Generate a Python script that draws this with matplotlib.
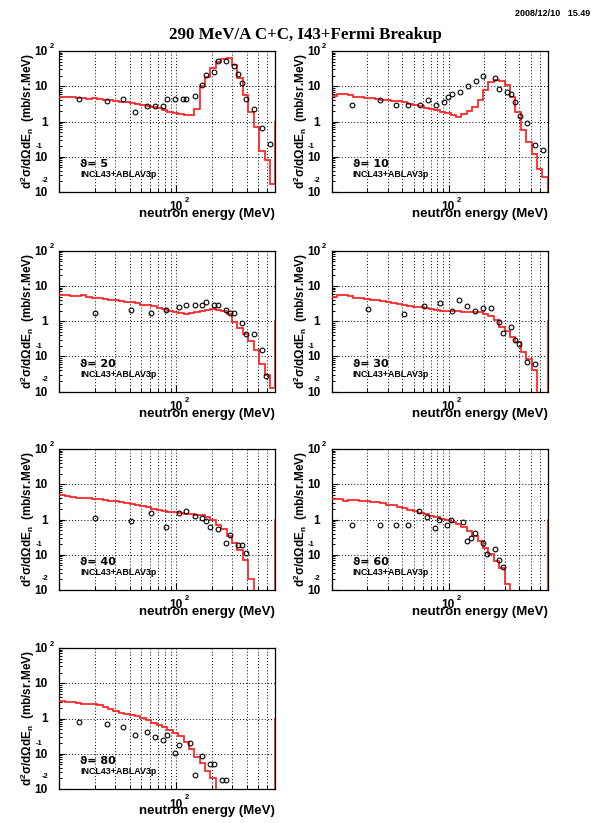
import numpy as np
import matplotlib
matplotlib.use('Agg')
import matplotlib.pyplot as plt
from matplotlib.transforms import ScaledTranslation, blended_transform_factory

plt.rcParams['font.family'] = ['Liberation Sans', 'DejaVu Sans']
plt.rcParams['mathtext.fontset'] = 'custom'
for k in ['rm', 'it', 'bf', 'sf']:
    plt.rcParams['mathtext.' + k] = 'Liberation Sans:bold'

# ---------------- data ----------------
E_MIN, E_MAX = 10, 700
N_BINS = 40
OVERFLOW_EDGE = 900

angles = [5, 10, 20, 30, 40, 60, 80]

# measured points (energy MeV, cross section mb/sr/MeV)
exp_e_5 = [14.8, 25.7, 35.0, 44.0, 55.8, 65.3, 76.4, 82.7, 96.8, 113, 122, 143, 166, 180, 208, 229, 266, 311, 334, 364, 394, 461, 540, 632]
exp_v_5 = [4.4, 3.7, 4.4, 1.9, 2.7, 2.7, 2.7, 4.4, 4.4, 4.4, 4.4, 5.2, 10.6, 21, 25, 52, 51, 36.6, 21.7, 12.6, 4.4, 2.2, 0.66, 0.23]

exp_e_10 = [14.9, 25.9, 35.5, 44.9, 56.9, 66.6, 77.9, 91.2, 98.7, 107, 125, 145, 170, 198, 249, 271, 315, 343, 371, 402, 467, 547, 640]
exp_v_10 = [2.9, 4.2, 2.9, 2.9, 2.9, 4.2, 2.9, 3.6, 5.0, 6.0, 7.0, 9.9, 14, 19.9, 16.7, 8.3, 7.0, 5.9, 3.5, 1.45, 0.90, 0.22, 0.16]

exp_e_20 = [20.3, 40.7, 60.7, 82.2, 105, 122, 143, 166, 180, 211, 229, 266, 288, 311, 364, 394, 461, 540, 584]
exp_v_20 = [1.75, 2.04, 1.75, 2.04, 2.48, 2.89, 2.89, 2.89, 3.5, 2.89, 2.89, 2.04, 1.75, 1.75, 0.89, 0.43, 0.43, 0.154, 0.027]

exp_e_30 = [20.3, 41.2, 61.1, 83.8, 106, 123, 144, 168, 196, 230, 269, 291, 341, 369, 399, 467, 547]
exp_v_30 = [2.27, 1.6, 2.7, 3.3, 1.9, 3.9, 2.7, 1.9, 2.3, 2.3, 0.97, 0.47, 0.68, 0.29, 0.23, 0.070, 0.060]

exp_e_40 = [20.3, 40.7, 60.3, 82.2, 105, 122, 143, 166, 180, 195, 229, 266, 288, 337, 364, 394]
exp_v_40 = [1.07, 0.92, 1.51, 0.63, 1.51, 1.8, 1.27, 1.07, 0.92, 0.62, 0.53, 0.22, 0.37, 0.19, 0.19, 0.113]

exp_e_60 = [14.9, 25.7, 35.5, 44.6, 56.1, 65.7, 76.9, 83.2, 97.4, 105, 133, 143, 155, 168, 195, 211, 247, 267, 290]
exp_v_60 = [0.70, 0.70, 0.70, 0.70, 1.69, 1.19, 0.59, 1.0, 0.70, 1.0, 0.84, 0.25, 0.29, 0.42, 0.21, 0.103, 0.147, 0.073, 0.044]

exp_e_80 = [14.8, 25.7, 35.0, 44.3, 55.8, 65.3, 76.4, 82.7, 96.8, 105, 132, 143, 166, 194, 210, 246, 266]
exp_v_80 = [0.81, 0.68, 0.57, 0.34, 0.41, 0.29, 0.24, 0.34, 0.103, 0.173, 0.206, 0.0255, 0.086, 0.051, 0.051, 0.018, 0.018]

# INCL43+ABLAV3p histograms, 40 log bins from 10 to 700 MeV, then overflow bin
OFF = 1e-5
calc_5 = [5.0, 4.9, 4.8, 4.6, 4.5, 4.4, 4.5, 4.3, 4.0, 4.2, 3.7, 3.6, 3.5, 3.4, 3.1, 2.9, 2.8, 2.6, 2.4, 2.1,
          1.9, 1.7, 1.6, 1.5, 1.55, 2.3, 10, 18, 32, 50, 59, 62, 40, 17, 5.5, 1.9, 0.68, 0.15, 0.08, 0.017]
calc_10 = [5.4, 5.9, 5.9, 5.5, 5.0, 4.8, 4.7, 4.5, 4.4, 4.2, 4.0, 3.85, 3.8, 3.6, 3.2, 2.9, 2.7, 2.4, 2.2, 2.1,
           1.9, 1.8, 1.5, 1.35, 1.6, 2.0, 2.6, 4.0, 7.8, 12.8, 15, 14.5, 10.8, 5.0, 1.9, 0.57, 0.26, 0.12, 0.046, 0.027]
calc_20 = [5.4, 5.4, 5.2, 5.3, 5.4, 4.9, 4.7, 4.5, 4.3, 4.1, 3.9, 3.8, 3.5, 3.4, 3.2, 2.95, 2.8, 2.65, 2.4, 2.2,
           2.0, 1.8, 1.7, 1.6, 1.7, 1.8, 1.95, 2.1, 2.2, 2.1, 1.95, 1.6, 0.95, 0.65, 0.42, 0.28, 0.15, 0.062, 0.029, 0.013]
calc_30 = [4.9, 5.4, 5.4, 5.1, 4.7, 4.5, 4.3, 4.1, 3.9, 3.7, 3.4, 3.3, 3.1, 2.9, 2.75, 2.6, 2.5, 2.35, 2.2, 2.1,
           2.0, 1.95, 1.9, 1.9, 1.85, 1.85, 1.85, 1.8, 1.6, 1.4, 1.05, 0.7, 0.52, 0.36, 0.26, 0.13, 0.085, 0.04, OFF, OFF]
calc_40 = [4.8, 4.6, 4.4, 4.2, 4.1, 4.0, 3.9, 3.8, 3.6, 3.4, 3.3, 3.05, 2.85, 2.7, 2.5, 2.35, 2.2, 2.0, 1.9, 1.75,
           1.65, 1.6, 1.5, 1.47, 1.4, 1.35, 1.3, 1.15, 0.97, 0.7, 0.53, 0.35, 0.22, 0.14, 0.07, 0.02, OFF, OFF, OFF, OFF]
calc_60 = [3.8, 3.8, 3.45, 3.6, 3.55, 3.4, 3.3, 3.15, 3.05, 2.85, 2.65, 2.5, 2.25, 2.1, 1.9, 1.75, 1.55, 1.4, 1.27, 1.15,
           1.05, 0.96, 0.86, 0.73, 0.6, 0.48, 0.34, 0.25, 0.16, 0.105, 0.068, 0.041, 0.015, OFF, OFF, OFF, OFF, OFF, OFF, OFF]
calc_80 = [3.07, 2.95, 2.85, 2.8, 2.65, 2.6, 2.5, 2.35, 2.1, 1.9, 1.6, 1.45, 1.37, 1.25, 1.15, 1.03, 0.89, 0.75, 0.66, 0.58,
           0.48, 0.39, 0.31, 0.22, 0.14, 0.083, 0.055, 0.033, 0.02, OFF, OFF, OFF, OFF, OFF, OFF, OFF, OFF, OFF, OFF, OFF]
overflow = [1.0, OFF, 1.0, 1.0, 1.0, 1.0, 1.0]

exp_e = [exp_e_5, exp_e_10, exp_e_20, exp_e_30, exp_e_40, exp_e_60, exp_e_80]
exp_v = [exp_v_5, exp_v_10, exp_v_20, exp_v_30, exp_v_40, exp_v_60, exp_v_80]
calc = [calc_5, calc_10, calc_20, calc_30, calc_40, calc_60, calc_80]

title = "290 MeV/A C+C, I43+Fermi Breakup"
date_text = "2008/12/10   15.49"
model_label = "INCL43+ABLAV3p"
xlabel = "neutron energy (MeV)"
ylabel = r"d$^{2}$σ/dΩdE$_{n}$  (mb/sr.MeV)"

# ---------------- figure ----------------
W, H = 597, 823
fig = plt.figure(figsize=(W / 100, H / 100), dpi=100)

col_left = [59.3, 331.7]
ax_w = 216.0
row_top = [51.0, 250.7, 449.0, 648.0]
ax_h = 141.0

edges = np.logspace(np.log10(E_MIN), np.log10(E_MAX), N_BINS + 1)
edges_full = np.append(edges, OVERFLOW_EDGE)

grid_x = [20, 30, 40, 50, 60, 70, 80, 90, 100, 200, 300, 400, 500, 600]
grid_y = [0.1, 1, 10]
bold = 'bold'


def px(ax, dx, dy):
    return ScaledTranslation(dx / 100.0, dy / 100.0, fig.dpi_scale_trans)


for idx, ang in enumerate(angles):
    r, c = divmod(idx, 2)
    l = col_left[c]
    t = row_top[r]
    ax = fig.add_axes([l / W, 1 - (t + ax_h) / H, ax_w / W, ax_h / H])
    ax.set_xscale('log')
    ax.set_yscale('log')
    ax.set_xlim(E_MIN, E_MAX)
    ax.set_ylim(0.01, 100)

    for gx in grid_x:
        ax.axvline(gx, color='black', lw=0.7, ls=(0, (1, 2.2)), zorder=1)
    for gy in grid_y:
        ax.axhline(gy, color='black', lw=0.7, ls=(0, (1, 2.2)), zorder=1)

    vals = np.append(np.array(calc[idx], dtype=float), overflow[idx])
    ax.stairs(vals, edges_full, baseline=None, color='#ff1a1a', lw=1.2, zorder=3)
    ax.plot(exp_e[idx], exp_v[idx], 'o', mfc='none', mec='black', ms=3.4, mew=0.8, zorder=4,
            clip_on=True)

    # ticks
    ax.set_xticks([10, 100])
    ax.set_xticks([20, 30, 40, 50, 60, 70, 80, 90, 200, 300, 400, 500, 600], minor=True)
    ax.set_yticks([0.01, 0.1, 1, 10, 100])
    ax.set_yticks([m * d for d in [0.01, 0.1, 1, 10] for m in range(2, 10)], minor=True)
    ax.set_xticklabels([])
    ax.set_yticklabels([])
    ax.set_xticklabels([], minor=True)
    ax.set_yticklabels([], minor=True)
    ax.tick_params(axis='both', which='both', direction='in', top=False, right=False, color='black')
    ax.tick_params(axis='x', which='major', length=4.8, width=0.8)
    ax.tick_params(axis='x', which='minor', length=2.8, width=0.7)
    ax.tick_params(axis='y', which='major', length=4.2, width=0.8)
    ax.tick_params(axis='y', which='minor', length=2.4, width=0.7)
    for s in ax.spines.values():
        s.set_linewidth(0.9)

    # y tick labels (ROOT style)
    ytr = blended_transform_factory(ax.transAxes, ax.transData)
    ylab = [(100, '10', '2'), (10, '10', None), (1, '1', None), (0.1, '10', '-1'), (0.01, '10', '-2')]
    exp_off = {'2': (-10, 4, 'left'), '-1': (-17, 10, 'right'), '-2': (-11, 12, 'right')}
    for val, base, ex in ylab:
        ax.text(0, val, base, transform=ytr + px(ax, -11.5, -1), ha='right', va='center',
                fontsize=8.5, fontweight=bold)
        if ex is not None:
            dx, dy, ha = exp_off[ex]
            ax.text(0, val, ex, transform=ytr + px(ax, dx, dy), ha=ha, va='center',
                    fontsize=5.5, fontweight=bold)

    # x tick label 10^2
    xtr = blended_transform_factory(ax.transData, ax.transAxes)
    ax.text(100, 0, '10', transform=xtr + px(ax, -0.5, -15.5), ha='center', va='center',
            fontsize=8.5, fontweight=bold)
    ax.text(100, 0, '2', transform=xtr + px(ax, 8, -8.5), ha='left', va='center',
            fontsize=5.5, fontweight=bold)

    # axis labels
    ax.text(1, 0, xlabel, transform=ax.transAxes + px(ax, 0, -25), ha='right', va='baseline',
            fontsize=9.5, fontweight=bold)
    ax.text(0, 0.5, ylabel, transform=ax.transAxes + px(ax, -31, 0), ha='center', va='center',
            rotation=90, fontsize=8.5, fontweight=bold)

    # legend-like texts
    ax.text(0, 0, 'ϑ= %d' % ang, transform=ax.transAxes + px(ax, 21, 28), ha='left', va='center',
            fontsize=8, family=['DejaVu Sans'], fontweight='bold')
    ax.text(0, 0, model_label, transform=ax.transAxes + px(ax, 21, 17.5), ha='left', va='center',
            fontsize=6.4, fontweight='bold')

fig.text(305 / W, 1 - 39 / H, title, ha='center', va='baseline', fontsize=12.2,
         family=['Liberation Serif'], fontweight='bold')
fig.text(590 / W, 1 - 16 / H, date_text, ha='right', va='baseline', fontsize=6.5, fontweight='bold')

fig.savefig('out.png', dpi=100)
